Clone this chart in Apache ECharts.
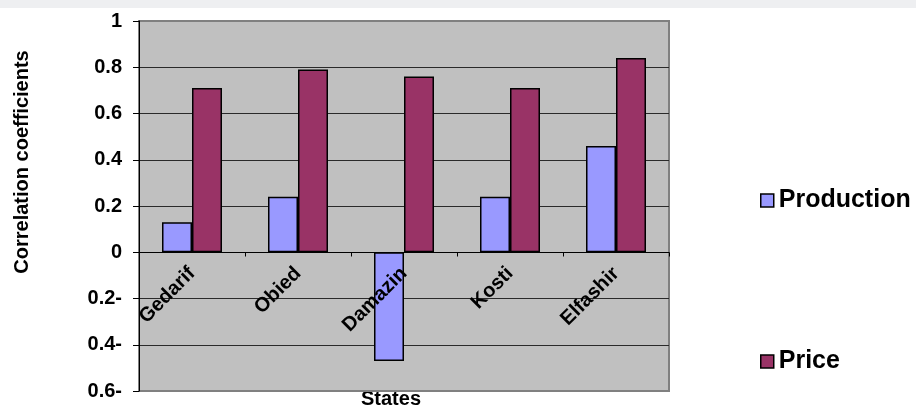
<!DOCTYPE html>
<html>
<head>
<meta charset="utf-8">
<script src="https://cdn.jsdelivr.net/npm/echarts@6/dist/echarts.min.js"></script>
<style>
html,body{margin:0;padding:0;background:#fff;}
#chart{width:916px;height:410px;}
</style>
</head>
<body>
<div id="chart"></div>
<script>
var categories = ['Gedarif', 'Obied', 'Damazin', 'Kosti', 'Elfashir'];
var production = [0.13, 0.24, -0.47, 0.24, 0.46];
var price = [0.71, 0.79, 0.76, 0.71, 0.84];
var yTickValues = [-0.6, -0.4, -0.2, 0, 0.2, 0.4, 0.6, 0.8, 1];
var yTickLabels = ['0.6-', '0.4-', '0.2-', '0', '0.2', '0.4', '0.6', '0.8', '1'];

var FONT = 'Arial, "Liberation Sans", sans-serif';
var chart = echarts.init(document.getElementById('chart'));

var gridColors = yTickValues.map(function (v, i) {
  return (i === 0 || i === yTickValues.length - 1) ? '#808080' : '#2a2a2a';
});

chart.setOption({
  animation: false,
  backgroundColor: '#ffffff',
  grid: {
    left: 139, right: 247, top: 21, bottom: 19,
    outerBoundsMode: 'none', containLabel: false,
    show: true, backgroundColor: '#c0c0c0',
    borderColor: '#808080', borderWidth: 2
  },
  legend: {
    orient: 'vertical',
    left: 755, top: 183,
    itemWidth: 13, itemHeight: 13,
    itemGap: 136,
    icon: 'rect',
    itemStyle: { borderColor: '#000', borderWidth: 1.5 },
    textStyle: { fontFamily: FONT, fontWeight: 'bold', fontSize: 25, color: '#000' },
    data: ['Production', 'Price']
  },
  xAxis: {
    type: 'category',
    data: categories,
    z: 10,
    position: 'bottom',
    offset: -138.5,
    axisLine: { onZero: false, lineStyle: { color: '#000', width: 1 } },
    axisTick: { show: true, length: 4, lineStyle: { color: '#000' } },
    axisLabel: {
      rotate: 45, margin: 18, color: '#000',
      fontFamily: FONT, fontWeight: 'bold', fontSize: 20, interval: 0
    },
    splitLine: { show: false }
  },
  yAxis: {
    type: 'value',
    min: -0.6, max: 1, interval: 0.2,
    axisLine: { show: true, lineStyle: { color: '#000', width: 1 } },
    axisTick: { show: true, length: 6, lineStyle: { color: '#000' } },
    axisLabel: {
      margin: 17, color: '#000',
      fontFamily: FONT, fontWeight: 'bold', fontSize: 20,
      formatter: function (v) {
        for (var i = 0; i < yTickValues.length; i++) {
          if (Math.abs(v - yTickValues[i]) < 1e-9) return yTickLabels[i];
        }
        return '';
      }
    },
    splitLine: { show: true, lineStyle: { color: gridColors, width: 1 } }
  },
  series: [
    {
      name: 'Production', type: 'bar', data: production,
      barWidth: 30, barGap: '0%',
      itemStyle: { color: '#9999ff', borderColor: '#000', borderWidth: 1.5 }
    },
    {
      name: 'Price', type: 'bar', data: price,
      barWidth: 30, barGap: '0%',
      itemStyle: { color: '#993366', borderColor: '#000', borderWidth: 1.5 }
    }
  ],
  graphic: [
    { type: 'rect', left: 0, top: 0, shape: { width: 916, height: 8 }, style: { fill: '#eeeff1' } },
    {
      type: 'text', x: 22, y: 162, rotation: Math.PI / 2,
      style: {
        text: 'Correlation coefficients', fill: '#000',
        font: 'bold 20px ' + FONT, textAlign: 'center', textVerticalAlign: 'middle'
      }
    },
    {
      type: 'text', x: 391, y: 399,
      style: {
        text: 'States', fill: '#000',
        font: 'bold 20px ' + FONT, textAlign: 'center', textVerticalAlign: 'middle'
      }
    }
  ]
});
</script>
</body>
</html>
